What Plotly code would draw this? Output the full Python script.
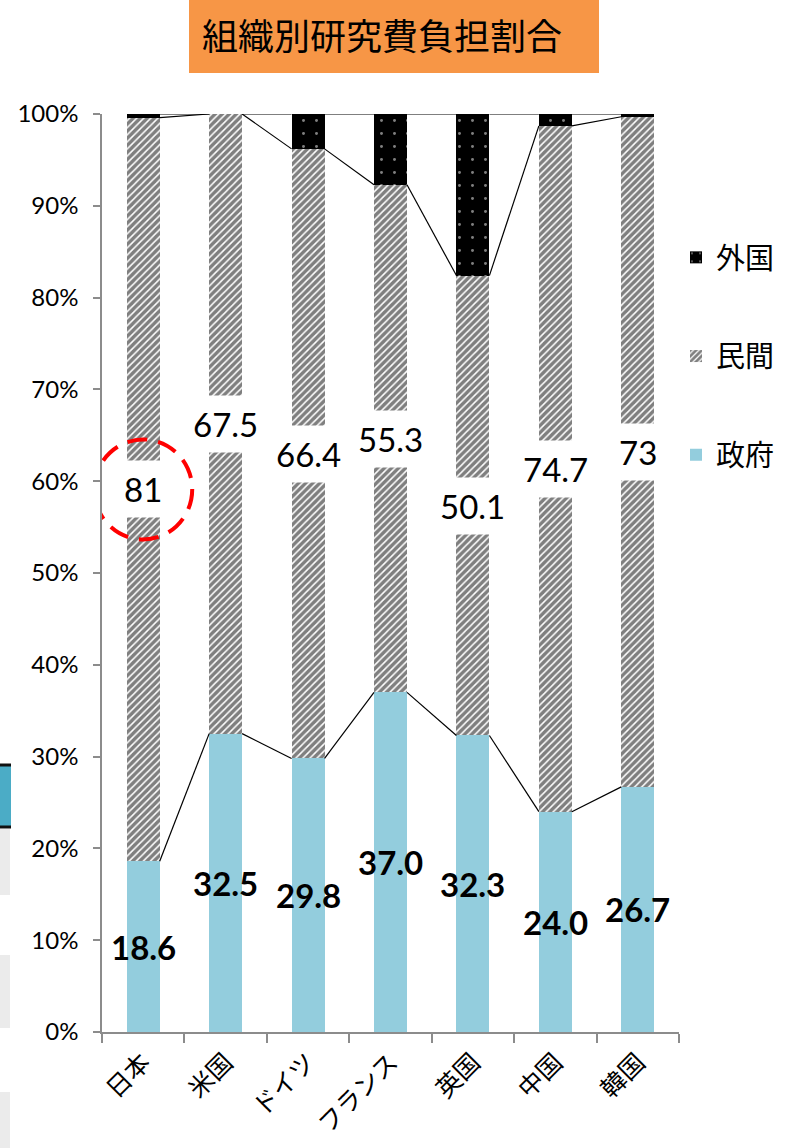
import plotly.graph_objects as go

# ---------------- data ----------------
countries = ["日本", "米国", "ドイツ", "フランス", "英国", "中国", "韓国"]
gov = [18.6, 32.5, 29.8, 37.0, 32.3, 24.0, 26.7]          # 政府
private = [81.0, 67.5, 66.4, 55.3, 50.1, 74.7, 73.0]      # 民間
foreign = [0.4, 0.0, 3.8, 7.7, 17.6, 1.3, 0.3]            # 外国
gov_labels = ["18.6", "32.5", "29.8", "37.0", "32.3", "24.0", "26.7"]
private_labels = ["81", "67.5", "66.4", "55.3", "50.1", "74.7", "73"]
y_tick_vals = [0, 10, 20, 30, 40, 50, 60, 70, 80, 90, 100]
y_tick_text = ["0%", "10%", "20%", "30%", "40%", "50%", "60%", "70%", "80%", "90%", "100%"]
title_text = "組織別研究費負担割合"

# ---------------- layout constants ----------------
W, H = 789, 1148
ML, MR, MT, MB = 102, 110, 114, 116
PW, PH = W - ML - MR, H - MT - MB
BAR_W = 0.4
NUM_FONT = "Liberation Sans Narrow, Lato, Noto Sans CJK JP, sans-serif"
CJK_FONT = "Noto Sans CJK JP, sans-serif"


def px_x(p):
    return (p - ML) / PW


def px_y(p):
    return (H - MB - p) / PH


fig = go.Figure()

fig.add_trace(go.Bar(
    x=countries, y=gov, width=BAR_W, name="政府", legendgroup="g", legendrank=3,
    marker=dict(color="#93CDDD", line=dict(width=0)),
))
fig.add_trace(go.Bar(
    x=countries, y=private, width=BAR_W, name="民間", legendgroup="p", legendrank=2,
    marker=dict(color="white", line=dict(width=0),
                pattern=dict(shape="/", fgcolor="black", bgcolor="white",
                             size=5, solidity=0.7)),
))
fig.add_trace(go.Bar(
    x=countries, y=foreign, width=BAR_W, name="外国", legendgroup="f", legendrank=1,
    marker=dict(color="black", line=dict(width=0),
                pattern=dict(shape=".", fgcolor="white", bgcolor="black",
                             size=13, solidity=0.04)),
))

# series connector lines
c1 = gov
c2 = [g + p for g, p in zip(gov, private)]
c3 = [g + p + f for g, p, f in zip(gov, private, foreign)]
lx, ly = [], []
for lev in (c1, c2, c3):
    for i in range(len(countries) - 1):
        lx += [i + BAR_W / 2, i + 1 - BAR_W / 2, None]
        ly += [lev[i], lev[i + 1], None]
fig.add_trace(go.Scatter(
    x=lx, y=ly, xaxis="x2", yaxis="y", mode="lines",
    line=dict(color="black", width=1.2), showlegend=False, hoverinfo="skip",
))

annotations = []
for i, c in enumerate(countries):
    annotations.append(dict(
        x=c, y=gov[i] + private[i] / 2, xref="x", yref="y",
        text=private_labels[i], showarrow=False,
        font=dict(family=NUM_FONT, size=33, color="black"),
        bgcolor="white", borderpad=8,
    ))
    annotations.append(dict(
        x=c, y=gov[i] / 2, xref="x", yref="y",
        text=gov_labels[i], showarrow=False,
        font=dict(family=NUM_FONT, size=33, color="black", weight="bold"),
    ))

# title
annotations.append(dict(
    x=px_x(382), y=px_y(34), xref="paper", yref="paper",
    text=title_text, showarrow=False,
    font=dict(family=CJK_FONT, size=36, color="black"),
    xanchor="center", yanchor="middle",
))

shapes = [
    # orange title box
    dict(type="rect", xref="paper", yref="paper",
         x0=px_x(189), x1=px_x(599), y0=px_y(73), y1=px_y(0),
         fillcolor="#F79646", line=dict(width=0), layer="below"),
    # red dashed circle around "81"
    dict(type="circle", xref="x2", yref="y",
         xsizemode="pixel", ysizemode="pixel",
         xanchor=0, yanchor=gov[0] + private[0] / 2,
         x0=-49, x1=49, y0=-50, y1=50,
         line=dict(color="#FF0000", width=4, dash="20px,11px")),
    # fragments of a neighbouring slide at the left edge
    dict(type="rect", xref="paper", yref="paper",
         x0=px_x(-2), x1=px_x(11), y0=px_y(827), y1=px_y(764),
         fillcolor="#4BACC6", line=dict(color="black", width=0)),
    dict(type="line", xref="paper", yref="paper",
         x0=px_x(-2), x1=px_x(11), y0=px_y(765), y1=px_y(765),
         line=dict(color="#111111", width=3)),
    dict(type="line", xref="paper", yref="paper",
         x0=px_x(-2), x1=px_x(11), y0=px_y(827), y1=px_y(827),
         line=dict(color="#111111", width=3)),
    dict(type="rect", xref="paper", yref="paper",
         x0=px_x(-2), x1=px_x(10), y0=px_y(895), y1=px_y(829),
         fillcolor="#EBEBEB", line=dict(width=0)),
    dict(type="rect", xref="paper", yref="paper",
         x0=px_x(-2), x1=px_x(10), y0=px_y(1028), y1=px_y(955),
         fillcolor="#EBEBEB", line=dict(width=0)),
    dict(type="rect", xref="paper", yref="paper",
         x0=px_x(-2), x1=px_x(10), y0=px_y(1150), y1=px_y(1092),
         fillcolor="#EBEBEB", line=dict(width=0)),
]

fig.update_layout(
    width=W, height=H,
    margin=dict(l=ML, r=MR, t=MT, b=MB, autoexpand=False),
    barmode="stack",
    plot_bgcolor="white", paper_bgcolor="white",
    showlegend=True,
    legend=dict(
        x=px_x(676), y=px_y(232), xanchor="left", yanchor="top",
        traceorder="grouped", tracegroupgap=58,
        font=dict(family=CJK_FONT, size=29, color="black"),
        bgcolor="rgba(0,0,0,0)", itemwidth=30,
    ),
    xaxis=dict(
        type="category", range=[-0.5, len(countries) - 0.5],
        showline=True, linecolor="#8C8C8C", linewidth=1.5,
        ticks="outside", tickson="boundaries", ticklen=9, tickcolor="#8C8C8C",
        tickwidth=1.5, tickangle=-45, showgrid=False, ticklabelstandoff=4,
        tickfont=dict(family=CJK_FONT, size=25, color="black"),
    ),
    xaxis2=dict(
        overlaying="x", range=[-0.5, len(countries) - 0.5],
        visible=False, showgrid=False, zeroline=False,
    ),
    yaxis=dict(
        range=[0, 100], tickvals=y_tick_vals, ticktext=y_tick_text,
        showline=True, linecolor="#8C8C8C", linewidth=1.5,
        ticks="outside", ticklen=7, tickcolor="#8C8C8C", tickwidth=1.5,
        showgrid=False, zeroline=False, ticklabelstandoff=10,
        tickfont=dict(family=NUM_FONT, size=24, color="black"),
    ),
    annotations=annotations,
    shapes=shapes,
)

fig.write_html("out.html")
